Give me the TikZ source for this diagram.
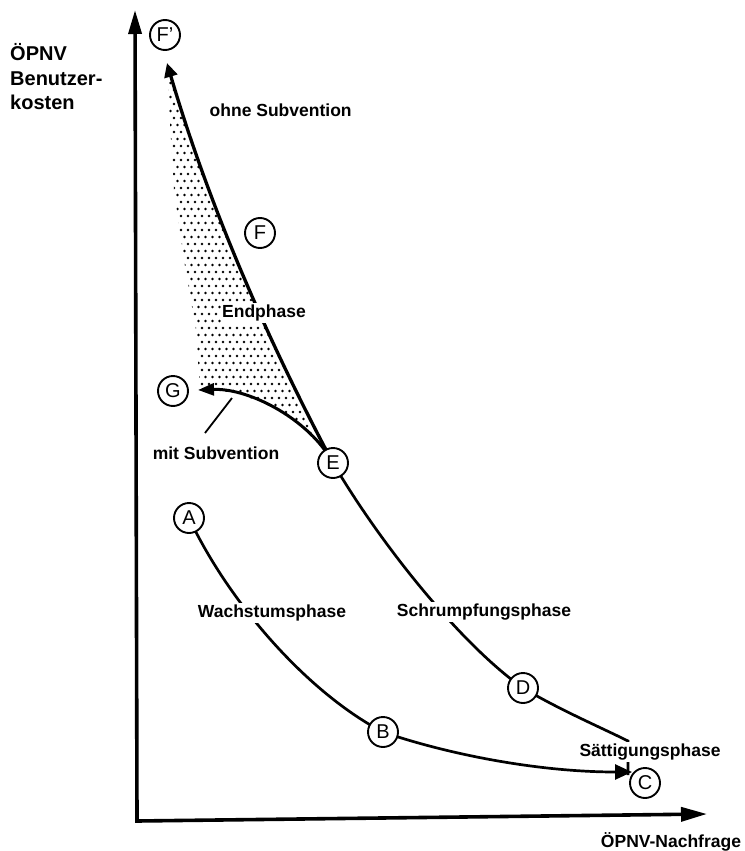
\documentclass[tikz,border=0pt]{standalone}
\usepackage{fontspec}
\setmainfont{Liberation Sans}
\usetikzlibrary{arrows.meta,backgrounds}
\begin{document}
\begin{tikzpicture}[x=1pt,y=-1pt,
  circ/.style={circle,draw,line width=1.9pt,fill=white,minimum size=30pt,inner sep=0pt,font=\fontsize{20}{22}\selectfont},
  lbl/.style={fill=white,inner sep=1.5pt,font=\fontsize{17.5}{21}\selectfont\bfseries},
  axisline/.style={line width=3.6pt},
  thickcurve/.style={line width=3.3pt},
  curve/.style={line width=2.7pt},
  leader/.style={line width=1.8pt}
]
\useasboundingbox (0,0) rectangle (744,851);

% axes
\coordinate (O) at (137,821);
\coordinate (Ytip) at (135,10);
\coordinate (Xtip) at (707,814);
\draw[axisline,{Triangle[length=24pt,width=13pt]}-{Triangle[length=26pt,width=14pt]}] (Ytip) -- (O) -- (Xtip);

% circle nodes
\node[circ] (Fp) at (165,35) {F'};
\node[circ] (F) at (260,233) {F};
\node[circ] (G) at (173,391) {G};
\node[circ] (E) at (333,463) {E};
\node[circ] (A) at (189,518) {A};
\node[circ] (D) at (523,688) {D};
\node[circ] (B) at (383,732) {B};
\node[circ] (C) at (645,783) {C};

% free ends
\coordinate (Fptip) at (167,63);
\coordinate (Gtip) at (198,390);
\coordinate (Ctip) at (632,772);
\coordinate (Dend) at (628,741);
\coordinate (Dtick) at (628,775);
\coordinate (m1) at (232,398);
\coordinate (m2) at (205,433);

\begin{pgfonlayer}{background}
  % dotted area
  \begin{scope}
    \clip (167,66) .. controls (206,196) and (262,330) .. (333,463)
          .. controls (310,420) and (250,388) .. (200,390)
          -- (196,330) -- (184,260) -- (174,190) -- (167,72) -- cycle;
    \foreach \r in {0,...,57}{
      \foreach \c in {0,...,25}{
        \pgfmathsetmacro\xx{160+\c*7+mod(\r,2)*3.5}
        \pgfmathsetmacro\yy{62+\r*7}
        \fill[black] (\xx,\yy) circle[radius=1.45];
      }
    }
  \end{scope}
  % ohne Subvention
  \draw[thickcurve,-{Triangle[length=14pt,width=13pt]}] (E.center) .. controls (262,330) and (206,196) .. (Fptip);
  % mit Subvention
  \draw[curve,line width=3pt,-{Triangle[length=16pt,width=12pt]}] (E.center) .. controls (310,420) and (250,388) .. (Gtip);
  % Schrumpfung
  \draw[curve] (E.center) .. controls (383,548) and (463,646) .. (D.center)
        .. controls (560,710) and (600,727) .. (Dend) -- (Dtick);
  % Wachstum
  \draw[curve] (A.center) .. controls (229,603) and (308,693) .. (B.center);
  \draw[curve,-{Triangle[length=17pt,width=15pt]}] (B.center) .. controls (450,755) and (540,772) .. (Ctip);
\end{pgfonlayer}

\draw[leader] (m1) -- (m2);

% labels
\node[font=\fontsize{20}{24.5}\selectfont\bfseries,align=left,anchor=west,inner sep=0pt] (ylab) at (10,77) {ÖPNV\\Benutzer-\\kosten};
\node[lbl,anchor=west] (ohne) at (208,110) {ohne Subvention};
\node[lbl] (endph) at (264,313) {Endphase};
\node[lbl] (mit) at (216,453) {mit Subvention};
\node[lbl] (wachs) at (272,613) {Wachstumsphase};
\node[lbl] (schr) at (484,612) {Schrumpfungsphase};
\node[lbl] (satt) at (650,752) {Sättigungsphase};
\node[lbl] (xlab) at (671,842) {ÖPNV-Nachfrage};
\end{tikzpicture}
\end{document}
